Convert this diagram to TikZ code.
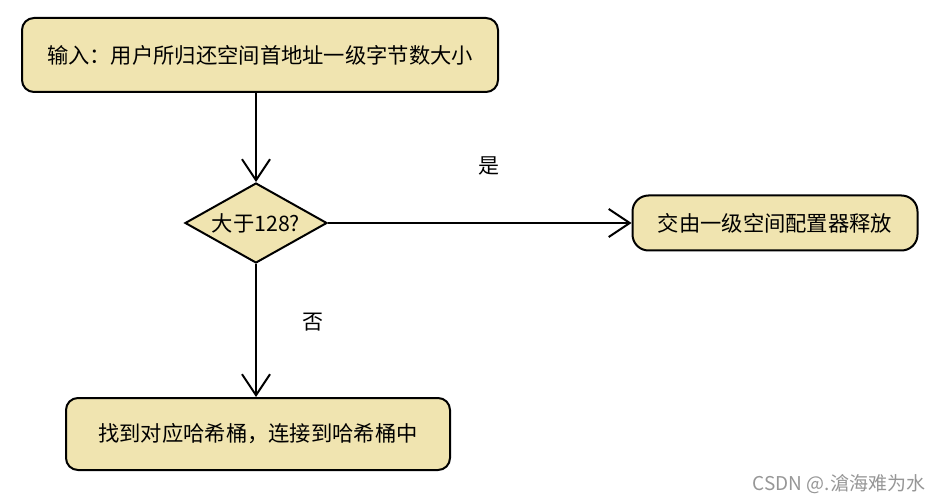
\documentclass[tikz,border=0pt]{standalone}
\usepackage{fontspec}
\setmainfont{Noto Sans CJK SC}
\usetikzlibrary{shapes.geometric,arrows.meta}
\definecolor{boxfill}{RGB}{240,228,176}
\definecolor{markgray}{RGB}{150,150,150}

\begin{document}
\begin{tikzpicture}[->,>={Straight Barb[length=21pt,width=28pt]},auto,line width=2pt,
    main node/.style={draw,fill=boxfill,rounded corners=12pt,inner sep=0pt,font=\fontsize{21.3}{25}\selectfont},
    test node/.style={draw,fill=boxfill,diamond,aspect=1.78,minimum width=142pt,minimum height=80pt,inner sep=0pt,font=\fontsize{21.3}{25}\selectfont}]
    \useasboundingbox (0,0) rectangle (942pt,-502pt);
    \node[main node,minimum width=476pt,minimum height=74pt] (1) at (260pt,-55pt) {输入：用户所归还空间首地址一级字节数大小};
    \node[test node] (2) [below of=1,node distance=168pt,xshift=-4pt] {大于128?};
    \node[main node,minimum width=285pt,minimum height=55pt,rounded corners=16pt] (3) [right of=2,node distance=519pt] {交由一级空间配置器释放};
    \node[main node,minimum width=384pt,minimum height=72pt] (4) [below of=2,node distance=211pt,xshift=2pt] {找到对应哈希桶，连接到哈希桶中};
    \path[every node/.style={inner sep=0pt,font=\fontsize{21}{25}\selectfont}]
    (1.south -| 2.north) edge (2.north)
    (2.east) edge node[pos=0.53,above=47pt] {是} (3.west)
    (2.south) edge node[pos=0.44,right=45pt] {否} (2.south |- 4.north);
    % watermark
    \node[anchor=east,text=markgray,inner sep=0pt,font=\fontsize{19}{23}\selectfont] (5) at (926pt,-484pt) {CSDN @.滄海难为水};
\end{tikzpicture}
\end{document}
